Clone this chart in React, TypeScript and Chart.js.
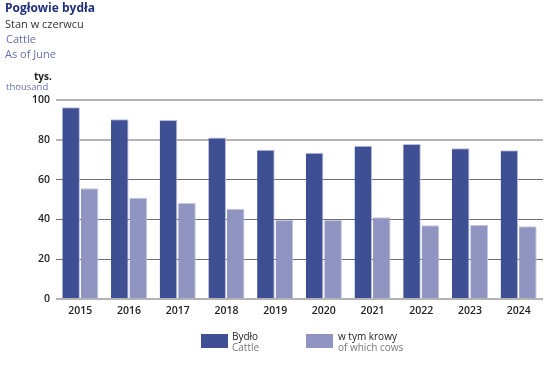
import React, { useEffect, useRef } from "react";
import { Chart, registerables } from "chart.js";

Chart.register(...registerables);

const years = ["2015", "2016", "2017", "2018", "2019", "2020", "2021", "2022", "2023", "2024"];
const cattle = [96.3, 90.3, 89.9, 81.1, 75.0, 73.5, 77.0, 77.9, 75.7, 74.7];
const cows = [55.6, 50.9, 48.2, 45.4, 39.7, 39.7, 41.1, 37.0, 37.2, 36.5];
const yTicks = [0, 20, 40, 60, 80, 100];

const DARK = "#3f4f93";
const LIGHT = "#8f94c0";
const FONT = "'Open Sans', 'DejaVu Sans', sans-serif";

export default function App() {
  const ref = useRef<HTMLCanvasElement | null>(null);

  useEffect(() => {
    if (!ref.current) return;
    const chart = new Chart(ref.current, {
      type: "bar",
      data: {
        labels: years,
        datasets: [
          {
            label: "Bydło",
            data: cattle,
            backgroundColor: DARK,
            borderColor: "#b9bddc",
            borderWidth: { top: 1, right: 1, left: 0, bottom: 0 },
            borderSkipped: false,
            barPercentage: 0.95,
            categoryPercentage: 0.76,
          },
          {
            label: "w tym krowy",
            data: cows,
            backgroundColor: LIGHT,
            borderColor: "#c3c6e0",
            borderWidth: { top: 1, right: 1, left: 0, bottom: 0 },
            borderSkipped: false,
            barPercentage: 0.95,
            categoryPercentage: 0.76,
          },
        ],
      },
      options: {
        responsive: false,
        animation: false,
        layout: { padding: { left: 0, top: 100, right: 12, bottom: 47 } },
        plugins: { legend: { display: false }, tooltip: { enabled: false } },
        scales: {
          x: {
            grid: { display: false, drawTicks: false },
            border: { display: false },
            ticks: {
              padding: 6,
              color: "#222",
              font: { family: FONT, size: 10.5, weight: "600" },
            },
            afterFit: (s: any) => {
              s.height = 20;
            },
          },
          y: {
            min: 0,
            max: 100,
            afterBuildTicks: (s: any) => {
              s.ticks = yTicks.map((v) => ({ value: v }));
            },
            grid: {
              drawTicks: false,
              color: (ctx: any) => {
                const v = ctx.tick ? ctx.tick.value : 0;
                return v === 0 || v >= 80 ? "#b3b3b3" : "#707070";
              },
              lineWidth: (ctx: any) => {
                const v = ctx.tick ? ctx.tick.value : 0;
                return v === 0 || v >= 80 ? 2 : 1;
              },
            },
            border: { display: false },
            ticks: {
              padding: 6,
              color: "#222",
              font: { family: FONT, size: 10.5, weight: "600" },
            },
            afterFit: (s: any) => {
              s.width = 56;
            },
          },
        },
      },
    });
    return () => chart.destroy();
  }, []);

  const txt = (extra: React.CSSProperties): React.CSSProperties => ({
    position: "absolute",
    fontFamily: FONT,
    whiteSpace: "nowrap",
    lineHeight: 1,
    ...extra,
  });

  return (
    <div style={{ position: "fixed", left: 0, top: 0, width: 555, height: 366, background: "#fff" }}>
      <canvas ref={ref} width={555} height={366} style={{ position: "absolute", left: 0, top: 0 }} />
      <div style={txt({ left: 5, top: 2, fontSize: 12, fontWeight: 700, color: "#1f2f7e" })}>Pogłowie bydła</div>
      <div style={txt({ left: 5, top: 18, fontSize: 11, color: "#333" })}>Stan w czerwcu</div>
      <div style={txt({ left: 6, top: 33, fontSize: 11, color: "#6670aa" })}>Cattle</div>
      <div style={txt({ left: 5, top: 48, fontSize: 11, color: "#6670aa" })}>As of June</div>
      <div style={txt({ left: 34, top: 71, fontSize: 10, fontWeight: 700, color: "#222" })}>tys.</div>
      <div style={txt({ left: 6, top: 82, fontSize: 9.5, color: "#6670aa" })}>thousand</div>

      <div style={{ position: "absolute", left: 201, top: 334, width: 27, height: 14, background: DARK }} />
      <div style={txt({ left: 232, top: 331, fontSize: 10, color: "#222" })}>Bydło</div>
      <div style={txt({ left: 232, top: 342, fontSize: 10, color: "#777" })}>Cattle</div>

      <div style={{ position: "absolute", left: 306, top: 334, width: 27, height: 14, background: LIGHT }} />
      <div style={txt({ left: 338, top: 331, fontSize: 10, color: "#222" })}>w tym krowy</div>
      <div style={txt({ left: 338, top: 342, fontSize: 10, color: "#777" })}>of which cows</div>
    </div>
  );
}
